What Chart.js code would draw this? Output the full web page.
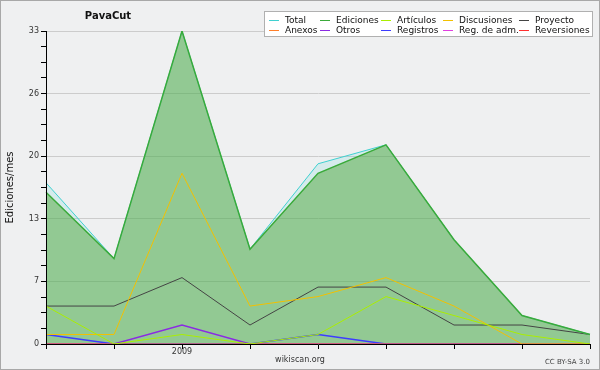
<!DOCTYPE html>
<html>
<head>
<meta charset="utf-8">
<script src="https://cdn.jsdelivr.net/npm/chart.js@4/dist/chart.umd.min.js"></script>
<style>
  body { margin: 0; background: #eff0f1; }
  #wrap { position: relative; width: 600px; height: 370px; background: #eff0f1; font-family: "DejaVu Sans", sans-serif; }
  #frame { position: absolute; left: 0; top: 0; width: 600px; height: 370px; box-sizing: border-box; border: 1px solid #a8a8a8; pointer-events: none; }
  .txt { position: absolute; white-space: nowrap; line-height: 1; }
  #title { left: 108px; top: 11px; transform: translateX(-50%); font-size: 10px; font-weight: bold; color: #111; }
  #site { left: 300px; top: 356px; transform: translateX(-50%); font-size: 8px; color: #333; }
  #lic { right: 10px; top: 359px; font-size: 7px; color: #444; }
  #legend { position: absolute; left: 264px; top: 11px; width: 329px; height: 26px; box-sizing: border-box; background: #fff; border: 1px solid #b0b0b0; }
  .item { position: absolute; font-size: 9px; line-height: 10px; color: #111; white-space: nowrap; }
  .item span.sw { display: inline-block; width: 10px; height: 1.5px; vertical-align: middle; margin-right: 6px; }
</style>
</head>
<body>
<div id="wrap">
  <canvas id="chart" width="600" height="370"></canvas>
  <div class="txt" id="title">PavaCut</div>
  <div class="txt" id="site">wikiscan.org</div>
  <div class="txt" id="lic">CC BY-SA 3.0</div>
  <div id="legend"></div>
  <div id="frame"></div>
</div>
<script>
// months shown on the x axis (Nov 2008 .. Jul 2009)
const months = ['2008-11', '2008-12', '2009-01', '2009-02', '2009-03', '2009-04', '2009-05', '2009-06', '2009-07'];

const seriesNames = ['Total', 'Ediciones', 'Artículos', 'Discusiones', 'Proyecto', 'Anexos', 'Otros', 'Registros', 'Reg. de adm.', 'Reversiones'];
const seriesColors = ['#40d0d0', '#3aaa3a', '#aaee00', '#f2c000', '#444444', '#ff7f2a', '#8a2be2', '#3d3dff', '#e040e0', '#ff3030'];

const total       = [17, 9, 33, 10, 19, 21, 11, 3, 1];
const ediciones   = [16, 9, 33, 10, 18, 21, 11, 3, 1];
const articulos   = [4, 0, 1, 0, 1, 5, 3, 1, 0];
const discusiones = [1, 1, 18, 4, 5, 7, 4, 0, 0];
const proyecto    = [4, 4, 7, 2, 6, 6, 2, 2, 1];
const anexos      = [0, 0, 0, 0, 0, 0, 0, 0, 0];
const otros       = [0, 0, 2, 0, 0, 0, 0, 0, 0];
const registros   = [1, 0, 0, 0, 1, 0, 0, 0, 0];
const regAdm      = [0, 0, 0, 0, 0, 0, 0, 0, 0];
const reversiones = [0, 0, 0, 0, 0, 0, 0, 0, 0];

const yMax = 33;
const yTickLabels = ['0', '7', '13', '20', '26', '33'];
const yMinorPerMajor = 4;

const seriesData = [total, ediciones, articulos, discusiones, proyecto, anexos, otros, registros, regAdm, reversiones];

const datasets = seriesData.map((values, i) => ({
  label: seriesNames[i],
  data: values,
  borderColor: seriesColors[i],
  borderWidth: (i === 1 || i === 6 || i === 7) ? 1.5 : 1,
  pointRadius: 0,
  tension: 0,
  fill: false
}));
datasets[0].fill = { target: 'origin', above: 'rgba(64,208,208,0.15)' };
datasets[1].fill = { target: 'origin', above: 'rgba(80,167,60,0.5)' };
datasets[1].order = -1;

// legend: two rows of five
const legendCols = [4, 55, 116, 178, 254];
const legend = document.getElementById('legend');
seriesNames.forEach((name, i) => {
  const div = document.createElement('div');
  div.className = 'item';
  div.style.left = legendCols[i % 5] + 'px';
  div.style.top = (i < 5 ? 3 : 13) + 'px';
  div.innerHTML = '<span class="sw" style="background:' + seriesColors[i] + '"></span>' + name;
  legend.appendChild(div);
});

const ctx = document.getElementById('chart').getContext('2d');
const chart = new Chart(ctx, {
  type: 'line',
  data: { labels: months, datasets: datasets },
  options: {
    responsive: false,
    animation: false,
    layout: { padding: { top: 31, right: 10, left: 0, bottom: 0 } },
    plugins: {
      legend: { display: false },
      tooltip: { enabled: false },
      filler: { drawTime: 'beforeDatasetsDraw' }
    },
    scales: {
      x: {
        grid: { drawOnChartArea: false, tickLength: 5, tickColor: '#000' },
        border: { color: '#000', width: 1, z: 1 },
        ticks: {
          autoSkip: false,
          maxRotation: 0,
          padding: -2,
          color: '#333',
          font: { family: 'DejaVu Sans', size: 8 },
          callback: function (value, index) {
            const m = months[index];
            return m.endsWith('-01') ? m.slice(0, 4) : '';
          }
        },
        afterFit: function (scale) { scale.height = 26; }
      },
      y: {
        min: 0,
        max: yMax,
        afterBuildTicks: function (scale) {
          const n = (yTickLabels.length - 1) * yMinorPerMajor;
          const ticks = [];
          for (let i = 0; i <= n; i++) ticks.push({ value: yMax * i / n });
          scale.ticks = ticks;
        },
        grid: {
          color: c => (c.index % yMinorPerMajor === 0 && c.index > 0) ? '#cccccc' : 'rgba(0,0,0,0)',
          tickColor: '#000',
          tickLength: 5
        },
        border: { color: '#000', width: 1, z: 1 },
        ticks: {
          autoSkip: false,
          padding: 2,
          color: '#333',
          font: { family: 'DejaVu Sans', size: 8 },
          callback: function (value, index) {
            return index % yMinorPerMajor === 0 ? yTickLabels[index / yMinorPerMajor] : '';
          }
        },
        title: {
          display: true,
          text: 'Ediciones/mes',
          color: '#111',
          font: { family: 'DejaVu Sans', size: 10 },
          padding: { top: 4, bottom: 0 }
        },
        afterFit: function (scale) { scale.width = 46; }
      }
    }
  }
});
</script>
</body>
</html>
